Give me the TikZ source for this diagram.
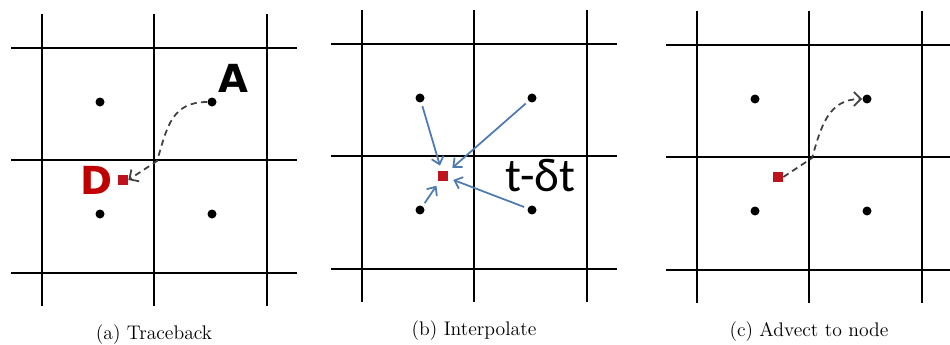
\documentclass[tikz,border=0pt]{standalone}
\usepackage{fontspec}
\newfontfamily\lblfont{DejaVu Sans}
\newfontfamily\calfont{Carlito}
\usetikzlibrary{positioning,arrows.meta,calc}
\definecolor{smpred}{RGB}{190,18,28}
\definecolor{lblred}{RGB}{192,0,0}
\definecolor{interpblue}{RGB}{78,122,176}
\tikzset{
  gridln/.style={line width=1.5pt,black},
  gdot/.style={circle,fill=black,inner sep=0pt,minimum size=1.8mm},
  smp/.style={rectangle,fill=smpred,inner sep=0pt,minimum size=2mm},
  traj/.style={-{Straight Barb[length=4pt,width=8pt]},dash pattern=on 3.5pt off 2.5pt,
    line width=1pt,black!75},
  interp/.style={-{Straight Barb[length=4pt,width=7pt]},line width=1pt,interpblue,
    shorten <=2pt,shorten >=3pt},
  biglbl/.style={inner sep=0pt,font=\lblfont\bfseries\fontsize{22}{22}\selectfont},
  figcap/.style={font=\fontsize{11.2}{13}\selectfont},
}

\begin{document}
\begin{tikzpicture}[x=0.2mm,y=-0.2mm]
  \useasboundingbox (0,0) rectangle (950,344);
  % three panels: grid, cell centres, sample point
  \foreach \p/\cx/\cy/\txt in {a/154/160/Traceback, b/474/156/Interpolate, c/809/157/Advect to node} {
    \begin{scope}[shift={(\cx,\cy)}]
      \foreach \o in {-112,0,113} {
        \draw[gridln] (-143,\o) -- (143,\o);
        \draw[gridln] (\o,-146) -- (\o,146);
      }
      \foreach \nm/\px/\py in {tl/-54/-58, tr/58/-58, bl/-54/54, br/58/54}
        \node[gdot] (\p-\nm) at (\px,\py) {};
      \node[smp] (\p-s) at (-31,20) {};
      \coordinate (\p-x) at (3,1);
      \node[figcap] (\p-cap) at (0,175) {(\p) \txt};
    \end{scope}
  }
  % (a) traceback
  \draw[traj] (a-tr.west) .. controls ($(a-x)+(14,-59)$) and ($(a-x)+(10,-33)$) .. (a-x) -- (a-s.east);
  \node[biglbl,above right=1.2mm and 0.5mm of a-tr] (lblA) {A};
  \node[biglbl,text=lblred,left=1mm of a-s] (lblD) {D};
  % (b) interpolate
  \foreach \nm in {tl,tr,bl,br}
    \draw[interp] (b-\nm) -- (b-s);
  \node[inner sep=0pt,font=\calfont\fontsize{27}{27}\selectfont,right=11.4mm of b-s] (dt) {t-δt};
  % (c) advect to node
  \draw[traj] (c-s.east) -- (c-x) .. controls ($(c-x)+(9,-31)$) and ($(c-x)+(16,-59)$) .. (c-tr.west);
\end{tikzpicture}
\end{document}
